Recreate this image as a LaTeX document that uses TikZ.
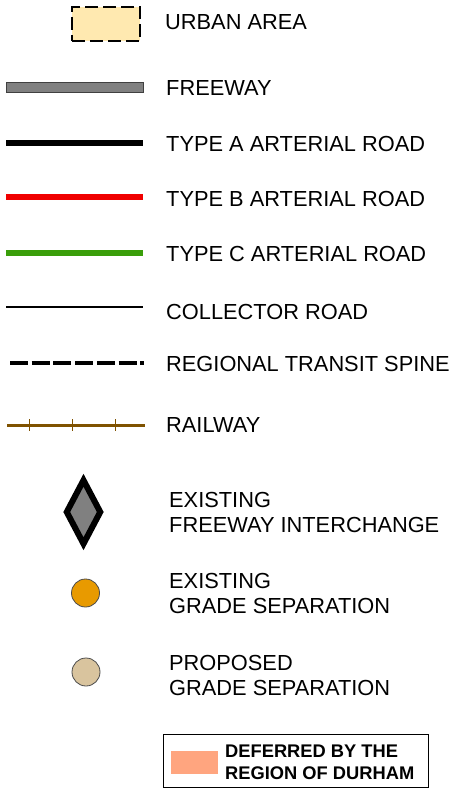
\documentclass[tikz,border=0pt]{standalone}
\usepackage{fontspec}
\setmainfont{Liberation Sans}
\usetikzlibrary{shapes.geometric}
\definecolor{urbanfill}{HTML}{FFE9B0}
\definecolor{fwgray}{HTML}{808080}
\definecolor{typeb}{HTML}{F00000}
\definecolor{typec}{HTML}{3A9E0A}
\definecolor{rail}{HTML}{7F5200}
\definecolor{gsorange}{HTML}{E89A00}
\definecolor{gstan}{HTML}{D9C49E}
\definecolor{deferred}{HTML}{FFA57F}
\tikzset{
  lbl/.style={anchor=base west, inner sep=0pt, font=\fontsize{21.8}{25}\selectfont, align=left},
  blbl/.style={anchor=base west, inner sep=0pt, font=\fontsize{18.3}{22}\selectfont\bfseries, align=left},
}
\begin{document}
\begin{tikzpicture}[x=1pt,y=-1pt]
\useasboundingbox (0,0) rectangle (458,789);
% urban area
\node[draw=black, fill=urbanfill, line width=2.2pt, dash pattern=on 13pt off 5pt, minimum width=68pt, minimum height=34pt, inner sep=0pt] (urban) at (106,24) {};
\node[lbl] (urbanl) at (165,30) {URBAN AREA};
% freeway
\node[draw=black!75, fill=fwgray, line width=0.8pt, minimum width=137pt, minimum height=10pt, inner sep=0pt] (fw) at (74.5,87) {};
\node[lbl] (fwl) at (166,96) {FREEWAY};
% type A
\coordinate (a1) at (6,143); \coordinate (a2) at (143,143);
\draw[line width=6pt] (a1) -- (a2);
\node[lbl] (al) at (166,151) {TYPE A ARTERIAL ROAD};
% type B
\coordinate (b1) at (6,197); \coordinate (b2) at (143,197);
\draw[typeb, line width=6pt] (b1) -- (b2);
\node[lbl] (bl) at (166,206) {TYPE B ARTERIAL ROAD};
% type C
\coordinate (c1) at (6,253); \coordinate (c2) at (143,253);
\draw[typec, line width=6pt] (c1) -- (c2);
\node[lbl] (cl) at (166,261) {TYPE C ARTERIAL ROAD};
% collector
\coordinate (d1) at (6,307); \coordinate (d2) at (143,307);
\draw[line width=2.6pt] (d1) -- (d2);
\node[lbl] (dl) at (166,319) {COLLECTOR ROAD};
% transit spine
\coordinate (e1) at (10,363); \coordinate (e2) at (144,363);
\draw[line width=4pt, dash pattern=on 18pt off 3.7pt] (e1) -- (e2);
\node[lbl] (el) at (166,371) {REGIONAL TRANSIT SPINE};
% railway
\coordinate (r1) at (7,425); \coordinate (r2) at (145,425);
\draw[rail, line width=3pt] (r1) -- (r2);
\foreach \x/\n in {29/t1,72/t2,115/t3}{
  \coordinate (\n a) at (\x,419); \coordinate (\n b) at (\x,431);
  \draw[rail, line width=1pt] (\n a) -- (\n b);
}
\node[lbl] (rl) at (166,432) {RAILWAY};
% interchange
\node[diamond, draw=black, fill=fwgray, line width=6pt, minimum width=36pt, minimum height=66pt, inner sep=0pt, aspect=0.55] (ic) at (83.5,512) {};
\node[lbl] (icl) at (169,532) {EXISTING\\FREEWAY INTERCHANGE};
% existing GS
\node[circle, draw=black!70, fill=gsorange, line width=0.8pt, minimum size=28pt, inner sep=0pt] (egs) at (85.5,593) {};
\node[lbl] (egsl) at (169,613) {EXISTING\\GRADE SEPARATION};
% proposed GS
\node[circle, draw=black!70, fill=gstan, line width=0.8pt, minimum size=28pt, inner sep=0pt] (pgs) at (86,672) {};
\node[lbl] (pgsl) at (169,695) {PROPOSED\\GRADE SEPARATION};
% deferred box
\node[draw=black, line width=1.8pt, minimum width=265pt, minimum height=53pt, inner sep=0pt] (defbox) at (296,761) {};
\node[fill=deferred, minimum width=47pt, minimum height=23pt, inner sep=0pt] (defsw) at (194.5,762.5) {};
\node[blbl] (defl) at (225,779.5) {DEFERRED BY THE\\REGION OF DURHAM};
\end{tikzpicture}
\end{document}
